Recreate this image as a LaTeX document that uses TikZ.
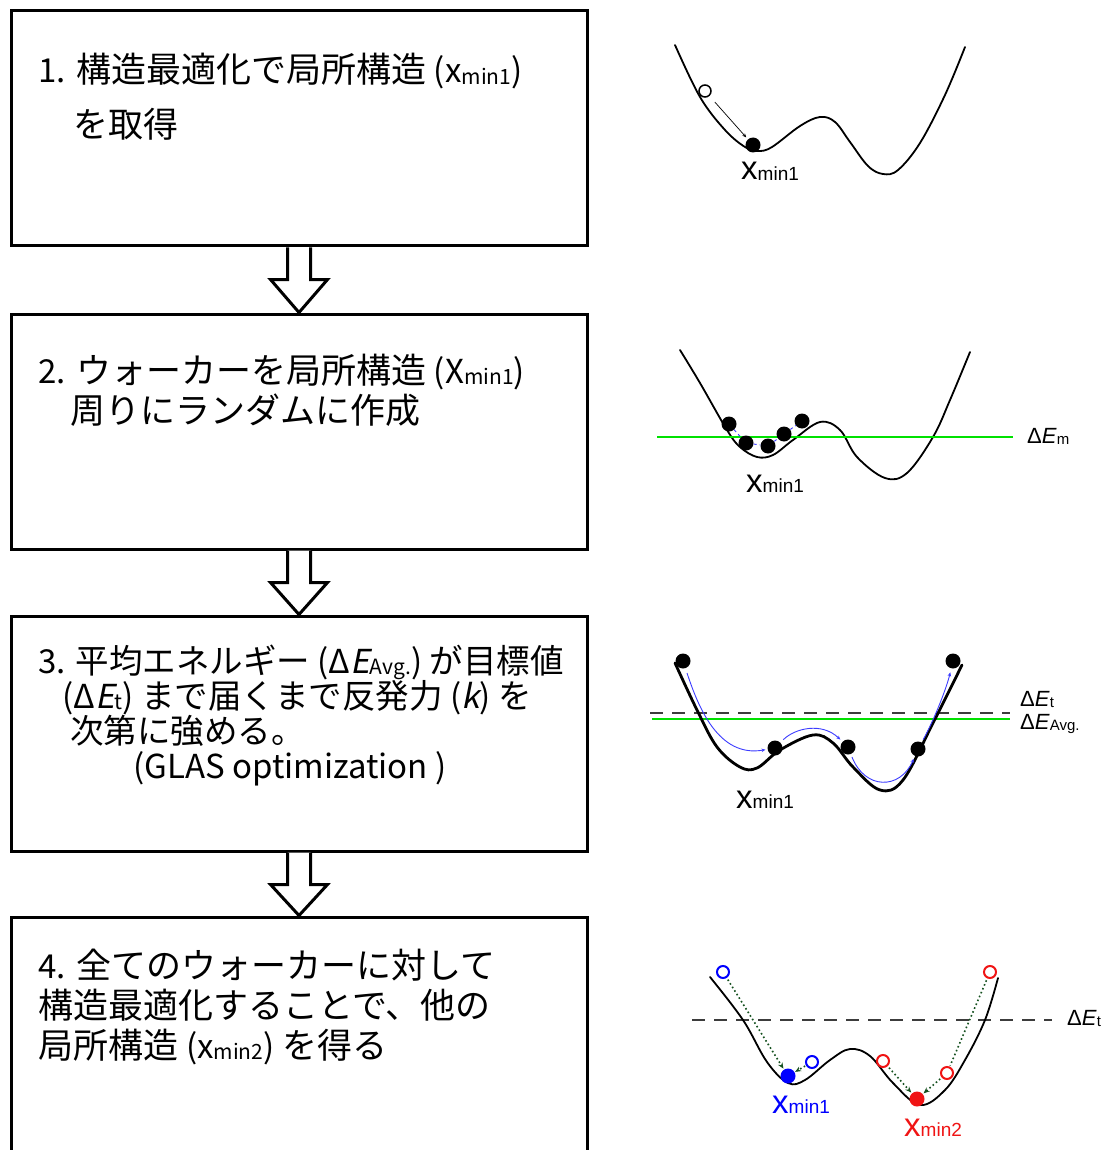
\documentclass[tikz,border=0pt]{standalone}
\usepackage{fontspec}
\setmainfont{Liberation Sans}
\newfontfamily\jp{Noto Sans CJK JP}
\newfontfamily\jpit[FakeSlant=0.2]{Noto Sans CJK JP}
\usetikzlibrary{arrows.meta,calc}
\definecolor{dgreen}{RGB}{20,80,30}
\definecolor{lgreen}{RGB}{0,225,0}
\definecolor{dgray}{RGB}{60,60,60}
\definecolor{myblue}{RGB}{0,0,255}
\definecolor{myred}{RGB}{240,20,20}
\definecolor{wblue}{RGB}{60,60,255}
\newcommand{\la}[1]{{\fontsize{33}{35}\selectfont #1}}
\newcommand{\jsub}[1]{\raisebox{-0.04em}{\fontsize{21}{21}\selectfont #1}}
\newcommand{\xlab}[1]{{\fontsize{33}{33}\selectfont x}\raisebox{-0.04em}{\fontsize{19}{19}\selectfont #1}}
\newcommand{\elab}[1]{{\fontsize{22}{22}\selectfont Δ\textit{E}}\raisebox{-0.16em}{\fontsize{15}{15}\selectfont #1}}
\begin{document}
\begin{tikzpicture}[x=1pt,y=-1pt,
  flowbox/.style={draw, line width=3pt, rectangle, minimum width=576pt, minimum height=235pt, inner sep=0, anchor=north west},
  barrow/.style={draw, fill=white, line width=3pt, line join=miter},
  jtxt/.style={anchor=base west, inner sep=0, font={\jp\fontsize{35}{40}\selectfont}},
  jtxtb/.style={anchor=base west, inner sep=0, align=left, font={\jp\fontsize{33.5}{35}\selectfont}},
  pot/.style={line width=1.8pt, line cap=round},
  potthick/.style={line width=2.8pt, line cap=round},
  dot/.style={circle, fill=black, minimum size=15pt, inner sep=0},
  opendot/.style={circle, draw=black, fill=white, line width=1.5pt, minimum size=12pt, inner sep=0},
  bopen/.style={circle, draw=myblue, fill=white, line width=2pt, minimum size=12pt, inner sep=0},
  ropen/.style={circle, draw=myred, fill=white, line width=2pt, minimum size=12pt, inner sep=0},
  lbl/.style={anchor=base west, inner sep=0},
  warrow/.style={wblue, line width=0.9pt, -{Stealth[length=4pt,width=3.5pt]}},
  dotarrow/.style={dgreen, line width=1.6pt, dash pattern=on 1.6pt off 2.6pt, -{Stealth[length=6pt,width=5pt]}},
  dotline/.style={dgreen, line width=1.6pt, dash pattern=on 1.6pt off 2.6pt},
  elevel/.style={dgray, line width=1.8pt, dash pattern=on 13pt off 9pt},
  glevel/.style={lgreen, line width=2pt}
]
\useasboundingbox (0,0) rectangle (1110,1150);
\clip (0,0) rectangle (1110,1150);
\fill[white] (0,0) rectangle (1110,1150);

% ---------- flow boxes ----------
\node[flowbox] (b1) at (9.5,9.5) {};
\node[flowbox] (b2) at (9.5,312.5) {};
\node[flowbox] (b3) at (9.5,614.5) {};
\node[flowbox, minimum height=300pt] (b4) at (9.5,915.5) {};

% ---------- block arrows ----------
\draw[barrow] ($(b1.south)+(-11.5,0)$) -- ($(b1.south)+(-11.5,32)$) -- ($(b1.south)+(-28.5,32)$) -- (b2.north)
  -- ($(b1.south)+(28.5,32)$) -- ($(b1.south)+(11.5,32)$) -- ($(b1.south)+(11.5,0)$);
\draw[barrow] ($(b2.south)+(-11.5,0)$) -- ($(b2.south)+(-11.5,32)$) -- ($(b2.south)+(-28.5,32)$) -- (b3.north)
  -- ($(b2.south)+(28.5,32)$) -- ($(b2.south)+(11.5,32)$) -- ($(b2.south)+(11.5,0)$);
\draw[barrow] ($(b3.south)+(-11.5,0)$) -- ($(b3.south)+(-11.5,32)$) -- ($(b3.south)+(-28.5,32)$) -- (b4.north)
  -- ($(b3.south)+(28.5,32)$) -- ($(b3.south)+(11.5,32)$) -- ($(b3.south)+(11.5,0)$);

% ---------- box texts ----------
\node[jtxt] (t1a) at (38,83) {\la{1.} 構造最適化で局所構造 \la{(x}\jsub{min1}\la{)}};
\node[jtxt] (t1b) at (73,138) {を取得};
\node[jtxt] (t2a) at (38,383) {\la{2.} ウォーカーを局所構造 \la{(X}\jsub{min1}\la{)}};
\node[jtxt] (t2b) at (70,423) {周りにランダムに作成};
\node[jtxtb] (t3a) at (38,778) {\la{3.} 平均エネルギー \la{(Δ{\jpit E}}\jsub{Avg.}\la{)} が目標値\\
  \hspace*{24pt}\la{(Δ{\jpit E}}\jsub{t}\la{)} まで届くまで反発力 \la{({\jpit k})} を\\
  \hspace*{32pt}次第に強める。\\
  \hspace*{95pt}\la{(GLAS optimization )}};
\node[jtxt] (t4a) at (38,978) {\la{4.} 全てのウォーカーに対して};
\node[jtxt] (t4b) at (38,1018) {構造最適化することで、他の};
\node[jtxt] (t4c) at (38,1058) {局所構造 \la{(x}\jsub{min2}\la{)} を得る};

% ---------- panel 1 ----------
\draw[pot] plot[smooth, tension=0.6] coordinates {(675,45) (700,97) (725,130) (745,147) (758,151) (772,147) (800,126) (820,117) (835,122) (850,142) (868,166) (883,174) (898,170) (920,143) (945,95) (965,47)};
\node[opendot] (p1o) at (705,91) {};
\node[dot] (p1d) at (753,145) {};
\draw[line width=0.7pt, -{Stealth[length=4pt,width=3.5pt]}, shorten <=8pt, shorten >=2.5pt] (p1o) -- (p1d);
\node[lbl] (p1l) at (741,180) {\xlab{min1}};

% ---------- panel 2 ----------
\draw[pot] plot[smooth, tension=0.6] coordinates {(680,350) (700,383) (727,430) (740,447) (757,457) (773,455) (793,440) (820,422) (840,430) (857,457) (885,478) (907,473) (933,437) (950,400) (970,352)};
\draw[glevel] (657,437) -- (1013,437);
\node[dot] (d1) at (729,424) {};
\node[dot] (d2) at (746,443) {};
\node[dot] (d3) at (768,446) {};
\node[dot] (d4) at (784,434) {};
\node[dot] (d5) at (802,421) {};
\draw[wblue, line width=0.9pt, dashed] (d1) -- (d2) -- (d3) -- (d4) -- (d5);
\node[lbl] (p2l) at (746,492) {\xlab{min1}};
\node[lbl] (em) at (1027,443) {\elab{m}};

% ---------- panel 3 ----------
\draw[elevel] (650,713) -- (1010,713);
\draw[glevel] (652,719) -- (1010,719);
\draw[potthick] plot[smooth, tension=0.6] coordinates {(675,663) (697,710) (717,747) (740,767) (757,768) (780,750) (813,735) (833,743) (853,767) (880,790) (903,780) (933,723) (962,665)};
\node[dot] (q1) at (683,661) {};
\node[dot] (q2) at (953,661) {};
\node[dot] (q3) at (775,748) {};
\node[dot] (q4) at (848,747) {};
\node[dot] (q5) at (918,749) {};
\draw[warrow, shorten <=5pt, shorten >=2pt] (q1) .. controls (698,706) and (718,758) .. (q3);
\draw[warrow, shorten <=4pt, shorten >=3pt] (q3) .. controls (795,728) and (822,722) .. (q4);
\draw[warrow, shorten <=3pt, shorten >=3pt] (q4) .. controls (865,790) and (900,790) .. (q5);
\draw[warrow, shorten <=3pt, shorten >=4pt] (q5) .. controls (933,722) and (946,690) .. (q2);
\node[lbl] (p3l) at (736,808) {\xlab{min1}};
\node[lbl] (et3) at (1020,706) {\elab{t}};
\node[lbl] (ea3) at (1020,729) {\elab{Avg.}};

% ---------- panel 4 ----------
\draw[elevel] (692,1020) -- (1052,1020);
\draw[pot] plot[smooth, tension=0.6] coordinates {(710,977) (743,1020) (767,1062) (788,1083) (805,1080) (830,1060) (850,1049) (870,1056) (893,1083) (920,1105) (945,1090) (965,1060) (985,1020) (998,978)};
\node[bopen] (bo1) at (723,972) {};
\node[bopen] (bo2) at (812,1062) {};
\node[circle, fill=myblue, minimum size=15pt, inner sep=0] (bf) at (788,1076) {};
\node[ropen] (ro1) at (990,972) {};
\node[ropen] (ro2) at (883,1061) {};
\node[ropen] (ro3) at (947,1073) {};
\node[circle, fill=myred, minimum size=15pt, inner sep=0] (rf) at (917,1099) {};
\draw[dotarrow, shorten <=2pt, shorten >=1pt] (bo1) -- (bf);
\draw[dotarrow, shorten <=1pt, shorten >=0.5pt] (bo2) -- (bf);
\draw[dotarrow, shorten <=2pt, shorten >=1pt] (ro2) -- (rf);
\draw[dotline, shorten <=2pt, shorten >=1pt] (ro1) -- (ro3);
\draw[dotarrow, shorten <=2pt, shorten >=1pt] (ro3) -- (rf);
\node[lbl, text=myblue] (p4b) at (772,1113) {\xlab{min1}};
\node[lbl, text=myred] (p4r) at (904,1136) {\xlab{min2}};
\node[lbl] (et4) at (1067,1025) {\elab{t}};
\end{tikzpicture}
\end{document}
